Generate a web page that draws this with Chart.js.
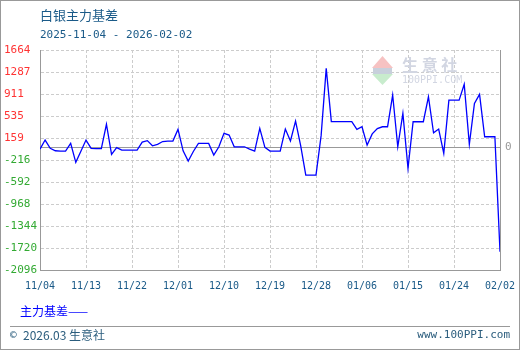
<!DOCTYPE html>
<html lang="zh">
<head>
<meta charset="UTF-8" />
<title>白银主力基差</title>
<script src="https://cdn.jsdelivr.net/npm/chart.js"></script>
<style>
  html, body { margin: 0; padding: 0; background: #fff; }
  #wrap { width: 520px; height: 350px; }
</style>
</head>
<body>
<div id="wrap"><canvas id="basisChart" width="520" height="350"></canvas></div>
<script>
// 数据
const titleText = '白银主力基差';
const rangeText = '2025-11-04 - 2026-02-02';
const seriesName = '主力基差';
const xLabels = ['11/04', '11/13', '11/22', '12/01', '12/10', '12/19', '12/28', '01/06', '01/15', '01/24', '02/02'];
const daysPerLabel = 9;
const yTicks = [1664, 1287, 911, 535, 159, -216, -592, -968, -1344, -1720, -2096];
// 每日基差 (11/04 起)
const basis = [
  -30, 125, -17, -58, -63, -63, 68, -256, -65, 125,
  -17, -20, -20, 395, -120, -5, -46, -46, -46, -46,
  90, 115, 27, 51, 100, 108, 108, 307, -60, -234,
  -70, 68, 68, 68, -131, 10, 239, 210, 10, 10,
  10, -29, -63, 325, 0, -63, -63, -63, 313, 110,
  449, 30, -473, -473, -473, 200, 1350, 440, 440, 440,
  440, 440, 307, 352, 39, 230, 320, 352, 352, 894,
  10, 581, -359, 438, 438, 438, 865, 250, 313, -103,
  808, 808, 808, 1077, 51, 752, 906, 181, 181, 181,
  -1784
];

const monoFont = '"DejaVu Sans Mono", monospace';
const cjkFont = '"Noto Sans CJK SC", sans-serif';

// 背景、水印、零线、文字
const decor = {
  id: 'decor',
  beforeDraw(chart) {
    const c = chart.ctx;
    c.save();
    c.fillStyle = '#ffffff';
    c.fillRect(0, 0, chart.width, chart.height);
    c.restore();
  },
  beforeDatasetsDraw(chart) {
    const c = chart.ctx;
    const area = chart.chartArea;
    const y0 = Math.round(chart.scales.y.getPixelForValue(0)) + 0.5;
    c.save();
    // 水印
    c.fillStyle = '#f6c2c2';
    c.beginPath();
    c.moveTo(372, 68); c.lineTo(393, 68); c.lineTo(382.5, 56); c.closePath(); c.fill();
    c.fillStyle = '#c8d0dc';
    c.fillRect(373, 68, 19, 6);
    c.fillStyle = '#c8eccd';
    c.beginPath();
    c.moveTo(372, 74); c.lineTo(393, 74); c.lineTo(382.5, 85); c.closePath(); c.fill();
    c.fillStyle = '#d2d6e2';
    c.font = 'bold 16px ' + cjkFont;
    c.textBaseline = 'middle';
    c.textAlign = 'left';
    c.fillText('生 意 社', 402, 65);
    c.font = '10px ' + monoFont;
    c.fillText('100PPI.COM', 402, 80);
    // 零线
    c.strokeStyle = '#999999';
    c.lineWidth = 1;
    c.beginPath();
    c.moveTo(area.left, y0); c.lineTo(area.right, y0);
    c.stroke();
    c.restore();
  },
  afterDraw(chart) {
    const c = chart.ctx;
    const area = chart.chartArea;
    const y0 = chart.scales.y.getPixelForValue(0);
    c.save();
    // 右边框
    c.strokeStyle = '#999999';
    c.lineWidth = 1;
    c.beginPath();
    c.moveTo(Math.round(area.right) + 0.5, area.top);
    c.lineTo(Math.round(area.right) + 0.5, area.bottom);
    c.stroke();
    // 外框与底部分隔线
    c.strokeRect(0.5, 0.5, chart.width - 1, chart.height - 1);
    c.beginPath();
    c.moveTo(10, 326.5); c.lineTo(510, 326.5);
    c.stroke();

    c.textBaseline = 'middle';
    c.textAlign = 'left';
    c.fillStyle = '#1a5a88';
    c.font = '13px ' + cjkFont;
    c.fillText(titleText, 40, 15);
    c.font = '11px ' + monoFont;
    c.fillText(rangeText, 40, 35);

    c.fillStyle = '#999999';
    c.font = '11px ' + monoFont;
    c.fillText('0', area.right + 5, y0);

    c.fillStyle = '#0000ff';
    c.font = '12px ' + cjkFont;
    c.fillText(seriesName + '——', 20, 311);

    c.fillStyle = '#2b5d7d';
    c.font = '11px ' + monoFont;
    c.fillText('©', 10, 335);
    c.font = '12px ' + cjkFont;
    c.fillText('2026.03 生意社', 23, 335);
    c.font = '11px ' + monoFont;
    c.textAlign = 'right';
    c.fillText('www.100PPI.com', 510, 335);
    c.restore();
  }
};

const ctx = document.getElementById('basisChart').getContext('2d');
new Chart(ctx, {
  type: 'line',
  data: {
    datasets: [{
      label: seriesName,
      data: basis.map((v, i) => ({ x: i, y: v })),
      borderColor: '#0000ff',
      borderWidth: 1.3,
      pointRadius: 0,
      tension: 0,
      fill: false
    }]
  },
  options: {
    responsive: false,
    animation: false,
    events: [],
    layout: { padding: { left: 4, top: 50, right: 20, bottom: 50 } },
    plugins: {
      legend: { display: false },
      tooltip: { enabled: false }
    },
    scales: {
      x: {
        type: 'linear',
        min: 0,
        max: (xLabels.length - 1) * daysPerLabel,
        afterBuildTicks: s => { s.ticks = xLabels.map((_, i) => ({ value: i * daysPerLabel })); },
        afterFit: s => { s.height = 30; },
        grid: { color: '#cccccc', drawTicks: true, tickLength: 7, tickColor: 'rgba(0,0,0,0)' },
        border: { color: '#999999', dash: [3, 2] },
        ticks: {
          padding: 3,
          color: '#1a5a88',
          font: { family: monoFont, size: 10 },
          maxRotation: 0,
          autoSkip: false,
          callback: (v, i) => xLabels[i]
        }
      },
      y: {
        min: yTicks[yTicks.length - 1],
        max: yTicks[0],
        afterBuildTicks: s => { s.ticks = yTicks.map(v => ({ value: v })); },
        afterFit: s => { s.width = 36; },
        grid: { color: '#cccccc', drawTicks: false },
        border: { color: '#999999', dash: [3, 2] },
        ticks: {
          crossAlign: 'far',
          autoSkip: false,
          font: { family: monoFont, size: 11 },
          color: c => c.tick.value >= 0 ? '#ff3333' : '#33aa33',
          callback: v => String(v)
        }
      }
    }
  },
  plugins: [decor]
});
</script>
</body>
</html>
